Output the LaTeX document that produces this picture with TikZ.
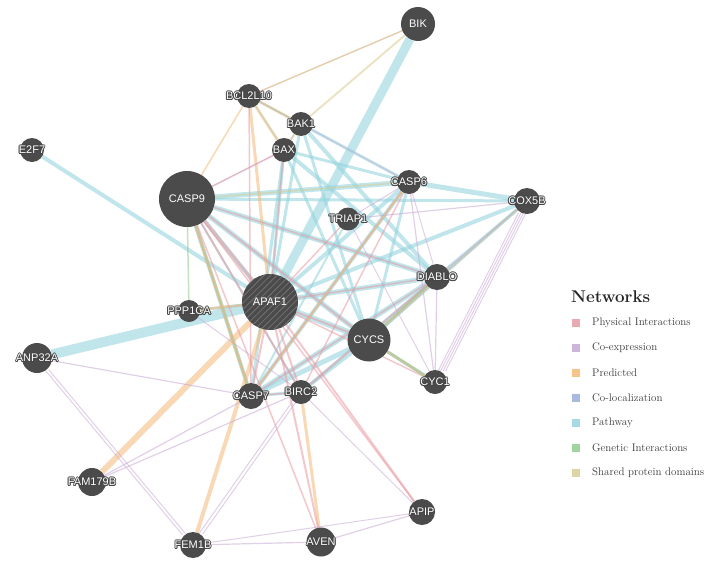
\documentclass[tikz,border=0pt]{standalone}
\usepackage{fontspec}
\usetikzlibrary{patterns.meta}
\newfontfamily\labfont{Liberation Sans}
\definecolor{ngray}{HTML}{4B4B4B}
\definecolor{halo}{HTML}{454545}
\definecolor{cph}{HTML}{E89AA2}
\definecolor{cce}{HTML}{C6A8D4}
\definecolor{cpr}{HTML}{F4B878}
\definecolor{ccl}{HTML}{98ACDC}
\definecolor{cpw}{HTML}{96D4DE}
\definecolor{cge}{HTML}{8ECC8E}
\definecolor{csd}{HTML}{D8CE94}
\definecolor{legtext}{HTML}{3A3A3A}
\newcommand\hl[1]{{\setbox0=\hbox{#1}%
\def\hlc##1##2{\rlap{\kern##1\raise##2\hbox{\color{halo}\copy0}}}%
\hlc{0.9pt}{0pt}\hlc{-0.9pt}{0pt}\hlc{0pt}{0.9pt}\hlc{0pt}{-0.9pt}%
\hlc{0.65pt}{0.65pt}\hlc{-0.65pt}{0.65pt}\hlc{0.65pt}{-0.65pt}\hlc{-0.65pt}{-0.65pt}%
\hbox{\color{white}\copy0}}}
\newcommand\edg[4]{\draw[#1, line width=#2pt] (#3) -- (#4);}
\pgfdeclarelayer{bg}
\pgfsetlayers{bg,main}
\tikzset{
  gnode/.style={circle, fill=ngray, draw=none, inner sep=0pt},
  lab/.style={font=\labfont\fontsize{11}{12}\selectfont, text=white, inner sep=0pt},
  edgebase/.style={draw opacity=0.55, line cap=butt},
  ph/.style={edgebase, draw=cph},
  ce/.style={edgebase, draw=cce},
  pr/.style={edgebase, draw=cpr},
  cl/.style={edgebase, draw=ccl},
  pw/.style={edgebase, draw=cpw, draw opacity=0.6},
  ge/.style={edgebase, draw=cge},
  sd/.style={edgebase, draw=csd},
  legsq/.style={fill=#1, fill opacity=0.85, minimum size=8pt, inner sep=0pt, draw=none},
  legtxt/.style={anchor=west, text=legtext, font=\fontsize{11}{13}\selectfont, inner sep=0pt},
}
\begin{document}
\begin{tikzpicture}[x=1pt,y=-1pt]
\useasboundingbox (0,0) rectangle (714,565);
% nodes
\node[gnode, minimum size=34pt, label={[lab]center:BIK}] (bik) at (418,24) {};
\node[gnode, minimum size=24pt, label={[lab]center:\hl{BCL2L10}}] (bcl2l10) at (249,96) {};
\node[gnode, minimum size=24pt, label={[lab]center:\hl{BAK1}}] (bak1) at (301,124) {};
\node[gnode, minimum size=24pt, label={[lab]center:\hl{BAX}}] (bax) at (284,150) {};
\node[gnode, minimum size=24pt, label={[lab]center:\hl{E2F7}}] (e2f7) at (32,150) {};
\node[gnode, minimum size=56pt, label={[lab]center:CASP9}] (casp9) at (187,199) {};
\node[gnode, minimum size=24pt, label={[lab]center:\hl{CASP6}}] (casp6) at (409,182) {};
\node[gnode, minimum size=26pt, label={[lab]center:\hl{COX5B}}] (cox5b) at (527,201) {};
\node[gnode, minimum size=23pt, label={[lab]center:\hl{TRIAP1}}] (triap1) at (348,219) {};
\node[gnode, minimum size=26pt, label={[lab]center:\hl{DIABLO}}] (diablo) at (437,277) {};
\node[gnode, minimum size=56pt, postaction={pattern={Lines[angle=45,distance=4.5pt,line width=0.8pt]}, pattern color=gray!75!ngray}, label={[lab]center:APAF1}] (apaf1) at (270,302) {};
\node[gnode, minimum size=22pt, label={[lab]center:\hl{PPP1CA}}] (ppp1ca) at (189,311) {};
\node[gnode, minimum size=43pt, label={[lab]center:CYCS}] (cycs) at (369,340) {};
\node[gnode, minimum size=30pt, label={[lab]center:\hl{ANP32A}}] (anp32a) at (37,358) {};
\node[gnode, minimum size=24pt, label={[lab]center:\hl{CYC1}}] (cyc1) at (435,382) {};
\node[gnode, minimum size=26pt, label={[lab]center:\hl{CASP7}}] (casp7) at (251,396) {};
\node[gnode, minimum size=24pt, label={[lab]center:\hl{BIRC2}}] (birc2) at (301,392) {};
\node[gnode, minimum size=28pt, label={[lab]center:\hl{FAM179B}}] (fam179b) at (92,482) {};
\node[gnode, minimum size=26pt, label={[lab]center:\hl{APIP}}] (apip) at (422,512) {};
\node[gnode, minimum size=26pt, label={[lab]center:\hl{FEM1B}}] (fem1b) at (193,545) {};
\node[gnode, minimum size=29pt, label={[lab]center:\hl{AVEN}}] (aven) at (321,542) {};
% edges
\begin{pgfonlayer}{bg}
% pathway
\edg{pw}{4}{e2f7}{apaf1}
\edg{pw}{10}{anp32a}{apaf1}
\edg{pw}{9}{bik}{apaf1}
\edg{pw}{5}{casp9}{casp6}
\edg{pw}{3}{casp9}{cox5b}
\edg{pw}{5}{casp6}{cox5b}
\edg{pw}{3}{bax}{casp6}
\edg{pw}{3}{bak1}{casp6}
\edg{pw}{4}{bax}{diablo}
\edg{pw}{4}{bak1}{diablo}
\edg{pw}{3}{bax}{cycs}
\edg{pw}{3}{bak1}{cycs}
\edg{pw}{3}{bax}{casp7}
\edg{pw}{3}{bak1}{apaf1}
\edg{pw}{3}{bax}{apaf1}
\edg{pw}{5}{casp9}{diablo}
\edg{pw}{5}{casp9}{cycs}
\edg{pw}{5}{apaf1}{diablo}
\edg{pw}{4}{apaf1}{casp6}
\edg{pw}{6}{apaf1}{cycs}
\edg{pw}{5}{casp7}{diablo}
\edg{pw}{5}{casp7}{cycs}
\edg{pw}{4}{casp7}{casp6}
\edg{pw}{4}{cox5b}{apaf1}
\edg{pw}{3}{cox5b}{cycs}
\edg{pw}{3}{cox5b}{diablo}
\edg{pw}{4}{cycs}{diablo}
\edg{pw}{3}{cycs}{casp6}
\edg{pw}{3}{cycs}{cyc1}
\edg{pw}{3}{birc2}{diablo}
\edg{pw}{3}{birc2}{cycs}
\edg{pw}{3}{birc2}{casp7}
\edg{pw}{4}{casp9}{casp7}
\edg{pw}{4}{casp9}{apaf1}
\edg{pw}{3}{ppp1ca}{apaf1}
\edg{pw}{2}{casp9}{birc2}
\edg{pw}{2}{triap1}{casp7}
% predicted
\edg{pr}{6}{fam179b}{apaf1}
\edg{pr}{4}{fem1b}{apaf1}
\edg{pr}{3}{aven}{birc2}
\edg{pr}{3}{casp9}{casp7}
\edg{pr}{1.5}{bcl2l10}{casp9}
\edg{pr}{3}{bcl2l10}{apaf1}
\edg{pr}{2.5}{ppp1ca}{apaf1}
\edg{pr}{2}{casp6}{casp7}
\edg{pr}{2}{cycs}{diablo}
% physical
\edg{ph}{3}{casp9}{apaf1}
\edg{ph}{2}{casp9}{casp7}
\edg{ph}{2}{casp9}{birc2}
\edg{ph}{2}{casp9}{cycs}
\edg{ph}{1.5}{casp9}{diablo}
\edg{ph}{1.5}{casp9}{aven}
\edg{ph}{2}{apaf1}{cycs}
\edg{ph}{2}{apaf1}{casp7}
\edg{ph}{2}{apaf1}{birc2}
\edg{ph}{2}{apaf1}{aven}
\edg{ph}{2}{apaf1}{apip}
\edg{ph}{1.5}{apaf1}{diablo}
\edg{ph}{1.5}{apaf1}{cyc1}
\edg{ph}{2}{birc2}{diablo}
\edg{ph}{1.5}{birc2}{casp7}
\edg{ph}{1.5}{triap1}{apaf1}
\edg{ph}{1.5}{bcl2l10}{bax}
\edg{ph}{1.5}{bcl2l10}{bak1}
\edg{ph}{1.5}{bcl2l10}{casp7}
\edg{ph}{1.5}{bax}{apaf1}
\edg{ph}{1.5}{bax}{casp9}
\edg{ph}{2}{casp6}{casp7}
\edg{ph}{1.5}{casp6}{birc2}
\edg{ph}{2}{cycs}{cyc1}
\edg{ph}{1.5}{apip}{casp9}
\edg{ph}{1.5}{diablo}{casp7}
\edg{ph}{1}{bik}{bcl2l10}
% co-expression
\begin{scope}[transform canvas={shift={(-2.5pt,0pt)}}]\edg{ce}{1}{cox5b}{cyc1}\end{scope}
\edg{ce}{1}{cox5b}{cyc1}
\begin{scope}[transform canvas={shift={(2.5pt,0pt)}}]\edg{ce}{1}{cox5b}{cyc1}\end{scope}
\begin{scope}[transform canvas={shift={(5pt,0pt)}}]\edg{ce}{1}{cox5b}{cyc1}\end{scope}
\edg{ce}{1.2}{cox5b}{cycs}
\edg{ce}{1.2}{cox5b}{triap1}
\edg{ce}{1.2}{cox5b}{diablo}
\edg{ce}{1}{bak1}{casp6}
\edg{ce}{1.2}{anp32a}{casp7}
\begin{scope}[transform canvas={shift={(-2pt,0pt)}}]\edg{ce}{1}{anp32a}{fem1b}\end{scope}
\begin{scope}[transform canvas={shift={(2pt,0pt)}}]\edg{ce}{1}{anp32a}{fem1b}\end{scope}
\edg{ce}{1.2}{fam179b}{casp7}
\edg{ce}{1.2}{fam179b}{birc2}
\begin{scope}[transform canvas={shift={(-2pt,0pt)}}]\edg{ce}{1}{fem1b}{birc2}\end{scope}
\begin{scope}[transform canvas={shift={(2pt,0pt)}}]\edg{ce}{1}{fem1b}{birc2}\end{scope}
\edg{ce}{1.2}{fem1b}{aven}
\edg{ce}{1}{fem1b}{apip}
\edg{ce}{1.2}{aven}{apip}
\edg{ce}{1.2}{casp6}{cyc1}
\edg{ce}{1}{casp6}{diablo}
\edg{ce}{1.2}{diablo}{cyc1}
\edg{ce}{1}{triap1}{cyc1}
\edg{ce}{1}{triap1}{casp6}
\edg{ce}{1}{ppp1ca}{birc2}
\edg{ce}{1}{bax}{casp9}
\edg{ce}{1}{cycs}{cyc1}
\edg{ce}{1}{birc2}{apip}
% co-localization
\edg{cl}{1.5}{bcl2l10}{bak1}
\edg{cl}{1}{bax}{bak1}
% genetic
\edg{ge}{3}{cycs}{cyc1}
\edg{ge}{1.5}{casp9}{ppp1ca}
\edg{ge}{1.5}{casp9}{casp7}
\edg{ge}{1.5}{diablo}{cycs}
% shared domains
\edg{sd}{3}{bcl2l10}{bak1}
\edg{sd}{3}{bcl2l10}{bax}
\edg{sd}{2}{bax}{bak1}
\edg{sd}{2}{bik}{bak1}
\edg{sd}{1.5}{bik}{bcl2l10}
\edg{sd}{1.5}{casp9}{casp6}
\edg{sd}{2}{casp9}{casp7}
\edg{sd}{1.5}{casp6}{casp7}
\edg{sd}{2}{cycs}{cyc1}
\edg{sd}{1.5}{cox5b}{cycs}
\end{pgfonlayer}
% legend
\node[anchor=west, inner sep=0pt, text=black!85, font=\bfseries\fontsize{17}{20}\selectfont] (legtitle) at (571,297) {Networks};
\node[legsq=cph] (sq1) at (576,323) {};
\node[legsq=cce] (sq2) at (576,348) {};
\node[legsq=cpr] (sq3) at (576,373) {};
\node[legsq=ccl] (sq4) at (576,398) {};
\node[legsq=cpw] (sq5) at (576,423) {};
\node[legsq=cge] (sq6) at (576,448) {};
\node[legsq=csd] (sq7) at (576,473) {};
\node[legtxt] (lt1) at (592,323) {Physical Interactions};
\node[legtxt] (lt2) at (592,348) {Co-expression};
\node[legtxt] (lt3) at (592,373) {Predicted};
\node[legtxt] (lt4) at (592,398) {Co-localization};
\node[legtxt] (lt5) at (592,423) {Pathway};
\node[legtxt] (lt6) at (592,448) {Genetic Interactions};
\node[legtxt] (lt7) at (592,473) {Shared protein domains};
\end{tikzpicture}
\end{document}
